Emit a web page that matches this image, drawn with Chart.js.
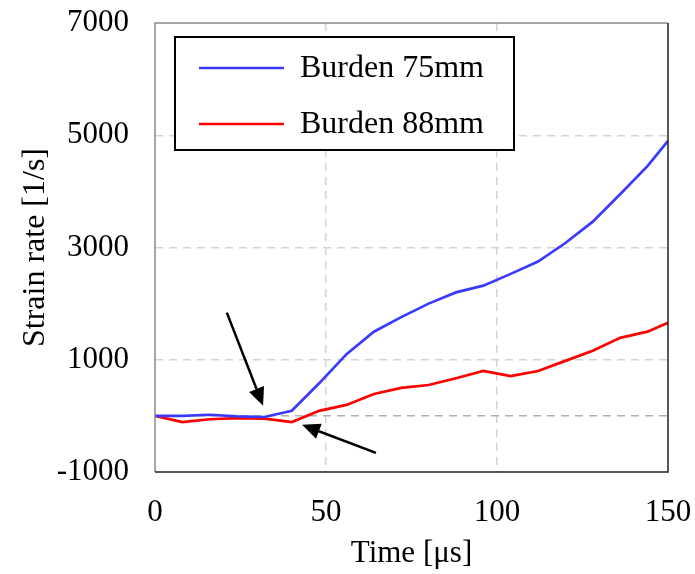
<!DOCTYPE html>
<html>
<head>
<meta charset="utf-8">
<script src="https://cdn.jsdelivr.net/npm/chart.js@4.4.1/dist/chart.umd.min.js"></script>
<style>
  html, body { margin: 0; padding: 0; background: #fff; }
  #wrap { width: 695px; height: 574px; }
</style>
</head>
<body>
<div id="wrap"><canvas id="chart" width="695" height="574"></canvas></div>
<script>
const times = [0, 8, 16, 24, 32, 40, 48, 56, 64, 72, 80, 88, 96, 104, 112, 120, 128, 136, 144, 150];
const burden75 = [0, 0, 20, -10, -20, 90, 580, 1100, 1500, 1760, 2000, 2200, 2320, 2530, 2750, 3080, 3460, 3950, 4450, 4900];
const burden88 = [0, -110, -60, -40, -50, -110, 90, 195, 390, 500, 550, 670, 800, 710, 800, 980, 1160, 1390, 1500, 1660];
const seriesLabels = ["Burden 75mm", "Burden 88mm"];
const seriesColors = ["#3a3aff", "#ff0000"];
const xTicks = [0, 50, 100, 150];
const yTicks = [-1000, 1000, 3000, 5000, 7000];
const yGrid = [0, 1000, 3000, 5000];
// arrows in data units: [fromX, fromY, toX, toY]
const arrows = [
  [21, 1840, 31.6, 180],
  [64.6, -660, 43, -160],
];

const FONT = "'Liberation Serif', 'Times New Roman', serif";

const toPoints = (ys) => ys.map((y, i) => ({ x: times[i], y: y }));

const frameAndArrows = {
  id: "frameAndArrows",
  afterDatasetsDraw(chart) {
    const { ctx, chartArea: a, scales } = chart;
    ctx.save();
    // plot frame
    ctx.lineWidth = 1.5;
    ctx.strokeStyle = "#8a8a8a";
    ctx.beginPath();
    ctx.moveTo(a.left, a.bottom);
    ctx.lineTo(a.left, a.top);
    ctx.lineTo(a.right, a.top);
    ctx.stroke();
    ctx.strokeStyle = "#222";
    ctx.beginPath();
    ctx.moveTo(a.right, a.top);
    ctx.lineTo(a.right, a.bottom);
    ctx.lineTo(a.left, a.bottom);
    ctx.stroke();

    // arrows
    ctx.strokeStyle = "#000";
    ctx.fillStyle = "#000";
    ctx.lineWidth = 2.5;
    arrows.forEach(([x0, y0, x1, y1]) => {
      const px0 = scales.x.getPixelForValue(x0);
      const py0 = scales.y.getPixelForValue(y0);
      const px1 = scales.x.getPixelForValue(x1);
      const py1 = scales.y.getPixelForValue(y1);
      const ang = Math.atan2(py1 - py0, px1 - px0);
      const headLen = 18, headW = 8;
      const bx = px1 - headLen * Math.cos(ang);
      const by = py1 - headLen * Math.sin(ang);
      ctx.beginPath();
      ctx.moveTo(px0, py0);
      ctx.lineTo(bx, by);
      ctx.stroke();
      ctx.beginPath();
      ctx.moveTo(px1, py1);
      ctx.lineTo(bx + headW * Math.sin(ang), by - headW * Math.cos(ang));
      ctx.lineTo(bx - headW * Math.sin(ang), by + headW * Math.cos(ang));
      ctx.closePath();
      ctx.fill();
    });

    // legend box
    const lx = a.left + 20, ly = a.top + 14, lw = 339, lh = 113;
    ctx.fillStyle = "#fff";
    ctx.fillRect(lx, ly, lw, lh);
    ctx.strokeStyle = "#000";
    ctx.lineWidth = 2;
    ctx.strokeRect(lx, ly, lw, lh);
    ctx.font = "32px " + FONT;
    ctx.textBaseline = "middle";
    ctx.textAlign = "left";
    chart.data.datasets.forEach((ds, i) => {
      const yy = ly + 31 + i * 56;
      ctx.strokeStyle = ds.borderColor;
      ctx.lineWidth = 2.5;
      ctx.beginPath();
      ctx.moveTo(lx + 24, yy);
      ctx.lineTo(lx + 109, yy);
      ctx.stroke();
      ctx.fillStyle = "#000";
      ctx.fillText(ds.label, lx + 125, yy + 1);
    });
    ctx.restore();
  },
};

new Chart(document.getElementById("chart"), {
  type: "line",
  data: {
    datasets: [
      {
        label: seriesLabels[0],
        data: toPoints(burden75),
        borderColor: seriesColors[0],
        borderWidth: 2.7,
        pointRadius: 0,
        tension: 0,
      },
      {
        label: seriesLabels[1],
        data: toPoints(burden88),
        borderColor: seriesColors[1],
        borderWidth: 2.7,
        pointRadius: 0,
        tension: 0,
      },
    ],
  },
  options: {
    responsive: false,
    animation: false,
    layout: { padding: { top: 23, right: 27, left: 0, bottom: 0 } },
    plugins: {
      legend: { display: false },
      tooltip: { enabled: false },
    },
    scales: {
      x: {
        type: "linear",
        min: 0,
        max: 150,
        afterBuildTicks: (s) => { s.ticks = xTicks.map((v) => ({ value: v })); },
        afterFit: (s) => {
          s.height = 102;
          s.paddingLeft = 0;
          s.paddingRight = 0;
        },
        grid: {
          drawTicks: false,
          color: (c) => (c.tick && (c.tick.value === 50 || c.tick.value === 100) ? "#d4d4d4" : "rgba(0,0,0,0)"),
          lineWidth: 1.5,
        },
        border: { display: false, dash: [8, 6] },
        ticks: {
          color: "#000",
          padding: 22,
          font: { family: FONT, size: 31 },
        },
        title: {
          display: true,
          text: "Time [μs]",
          color: "#000",
          font: { family: FONT, size: 31 },
          padding: { top: 0, bottom: 2 },
        },
      },
      y: {
        min: -1000,
        max: 7000,
        afterBuildTicks: (s) => {
          const vals = [...new Set([...yTicks, ...yGrid])].sort((p, q) => p - q);
          s.ticks = vals.map((v) => ({ value: v }));
        },
        afterFit: (s) => {
          s.width = 155;
          s.paddingTop = 0;
          s.paddingBottom = 0;
        },
        grid: {
          drawTicks: false,
          lineWidth: 1.5,
          color: (c) => {
            if (!c.tick || !yGrid.includes(c.tick.value)) return "rgba(0,0,0,0)";
            return c.tick.value === 0 ? "#b0b0b0" : "#d4d4d4";
          },
        },
        border: { display: false, dash: [8, 6] },
        ticks: {
          color: "#000",
          padding: 26,
          font: { family: FONT, size: 31 },
          callback: (v) => (yTicks.includes(v) ? String(v) : ""),
        },
        title: {
          display: true,
          text: "Strain rate [1/s]",
          color: "#000",
          font: { family: FONT, size: 32 },
          padding: { top: 16, bottom: 0 },
        },
      },
    },
  },
  plugins: [frameAndArrows],
});
</script>
</body>
</html>
